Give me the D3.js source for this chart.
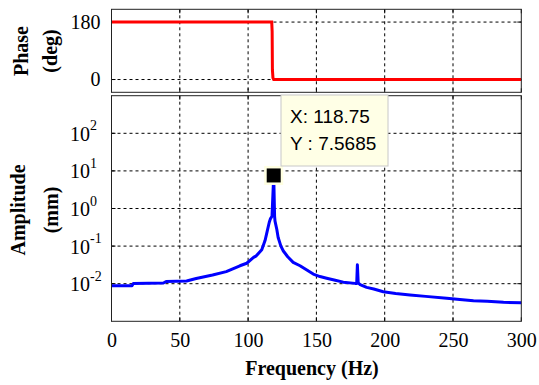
<!DOCTYPE html>
<html>
<head>
<meta charset="utf-8">
<script src="https://cdn.jsdelivr.net/npm/d3@7"></script>
<style>
  body { margin: 0; background: #fff; }
  svg text { font-family: "Liberation Serif", "Times New Roman", serif; }
  svg text.tip { font-family: "Liberation Sans", Arial, sans-serif; }
</style>
</head>
<body>
<div id="chart"></div>
<script>
// phase response (deg)
const phaseFreq = [0, 117.3, 117.6, 117.8, 118.2, 118.75, 300];
const phaseDeg  = [180, 180, 150, 30, 5, 0, 0];

// amplitude spectrum (mm)
const ampFreq = [0, 15, 16, 38, 40, 55, 62, 74, 84, 94, 99, 104, 106, 110, 112.4, 114, 115.5, 116.3,
  117.5, 118.75, 119.4, 119.7, 121, 122, 124, 125.8, 129, 133, 138, 143, 147.7, 152.6, 157.5, 163,
  169.7, 178.3, 179.5, 180, 180.6, 182, 186.8, 192, 199, 208, 218.5, 230, 245.4, 255, 265, 275, 287, 300];
const ampVal = [0.0088, 0.0088, 0.0102, 0.0104, 0.0114, 0.0118, 0.0138, 0.017, 0.021, 0.030, 0.035, 0.050, 0.055, 0.08, 0.14, 0.25, 0.43, 0.53,
  0.62, 7.5685, 0.62, 0.46, 0.28, 0.17, 0.10, 0.074, 0.052, 0.037, 0.030, 0.023, 0.018, 0.0155, 0.014, 0.0125,
  0.011, 0.0102, 0.0102, 0.032, 0.0105, 0.0095, 0.0080, 0.0072, 0.0061, 0.0055, 0.0050, 0.0046, 0.0041, 0.0038, 0.0035, 0.0034, 0.0032, 0.0031];

const freqTicks = [0, 50, 100, 150, 200, 250, 300];
const phaseTicks = [0, 180];
const ampTicks = [1e-2, 1e-1, 1e0, 1e1, 1e2];
const tipX = 118.75, tipY = 7.5685;

const W = 539, H = 385;
const left = 111.5, right = 521.3;

const svg = d3.select("#chart").append("svg")
  .attr("width", W).attr("height", H);

const x = d3.scaleLinear().domain([0, 300]).range([left, right]);
const yP = d3.scaleLinear().domain([-40, 220]).range([92.3, 9.3]);
const yA = d3.scaleLog().domain([1e-3, 1e3]).range([321.3, 95.7]);

function panel(y, yTicks) {
  const [y1, y0] = y.range();
  const g = svg.append("g");
  // grid
  g.selectAll(".gx").data(freqTicks.slice(1, -1)).join("line")
    .attr("x1", d => x(d)).attr("x2", d => x(d))
    .attr("y1", y0).attr("y2", y1)
    .attr("stroke", "#000").attr("stroke-width", 1).attr("stroke-dasharray", "3,3");
  g.selectAll(".gy").data(yTicks).join("line")
    .attr("x1", left).attr("x2", right)
    .attr("y1", d => y(d)).attr("y2", d => y(d))
    .attr("stroke", "#000").attr("stroke-width", 1).attr("stroke-dasharray", "3,3");
  // inward ticks
  freqTicks.forEach(t => {
    g.append("line").attr("x1", x(t)).attr("x2", x(t)).attr("y1", y1).attr("y2", y1 - 4).attr("stroke", "#000");
    g.append("line").attr("x1", x(t)).attr("x2", x(t)).attr("y1", y0).attr("y2", y0 + 4).attr("stroke", "#000");
  });
  yTicks.forEach(t => {
    g.append("line").attr("x1", left).attr("x2", left + 4).attr("y1", y(t)).attr("y2", y(t)).attr("stroke", "#000");
    g.append("line").attr("x1", right).attr("x2", right - 4).attr("y1", y(t)).attr("y2", y(t)).attr("stroke", "#000");
  });
  return g;
}

// phase panel
panel(yP, phaseTicks);
svg.append("path")
  .datum(phaseFreq.map((f, i) => [f, phaseDeg[i]]))
  .attr("fill", "none").attr("stroke", "#ff0000").attr("stroke-width", 3)
  .attr("d", d3.line().x(d => x(d[0])).y(d => yP(d[1])));
svg.append("rect").attr("x", left).attr("y", 9.3).attr("width", right - left).attr("height", 92.3 - 9.3)
  .attr("fill", "none").attr("stroke", "#222").attr("stroke-width", 1);

const axP = svg.append("g").attr("transform", `translate(${left},0)`)
  .call(d3.axisLeft(yP).tickValues(phaseTicks).tickSize(0).tickPadding(11));
axP.select(".domain").remove();
axP.selectAll("text").attr("font-size", 20).attr("fill", "#000");

// amplitude panel
panel(yA, ampTicks);
svg.append("path")
  .datum(ampFreq.map((f, i) => [f, ampVal[i]]))
  .attr("fill", "none").attr("stroke", "#0000ff").attr("stroke-width", 3)
  .attr("stroke-linejoin", "round")
  .attr("d", d3.line().x(d => x(d[0])).y(d => yA(d[1])));
svg.append("rect").attr("x", left).attr("y", 95.7).attr("width", right - left).attr("height", 321.3 - 95.7)
  .attr("fill", "none").attr("stroke", "#222").attr("stroke-width", 1);

const axA = svg.append("g").attr("transform", `translate(${left},0)`)
  .call(d3.axisLeft(yA).tickValues(ampTicks).tickSize(0));
axA.select(".domain").remove();
axA.selectAll("text").each(function(d) {
  const t = d3.select(this).text(null)
    .attr("text-anchor", "start").attr("x", 70 - left).attr("dy", "0.35em")
    .attr("font-size", 20).attr("fill", "#000");
  t.append("tspan").text("10");
  t.append("tspan").attr("font-size", 14).attr("dy", "-0.75em").text(Math.round(Math.log10(d)));
});

const axX = svg.append("g").attr("transform", `translate(0,321.3)`)
  .call(d3.axisBottom(x).tickValues(freqTicks).tickSize(0).tickPadding(12));
axX.select(".domain").remove();
axX.selectAll("text").attr("font-size", 20).attr("fill", "#000");

// axis titles
svg.append("text").attr("transform", "translate(28,51) rotate(-90)")
  .attr("text-anchor", "middle").attr("font-size", 20).attr("font-weight", "bold").text("Phase");
svg.append("text").attr("transform", "translate(57,51) rotate(-90)")
  .attr("text-anchor", "middle").attr("font-size", 20).attr("font-weight", "bold").text("(deg)");
svg.append("text").attr("transform", "translate(25,210) rotate(-90)")
  .attr("text-anchor", "middle").attr("font-size", 20).attr("font-weight", "bold").text("Amplitude");
svg.append("text").attr("transform", "translate(58,210) rotate(-90)")
  .attr("text-anchor", "middle").attr("font-size", 20).attr("font-weight", "bold").text("(mm)");
svg.append("text").attr("x", 312).attr("y", 375)
  .attr("text-anchor", "middle").attr("font-size", 20).attr("font-weight", "bold").text("Frequency (Hz)");

// data tip
const mx = x(tipX), my = yA(tipY);
svg.append("rect").attr("x", mx - 9.5).attr("y", my - 9.5).attr("width", 19).attr("height", 19)
  .attr("fill", "#ffffe1");
svg.append("rect").attr("x", mx - 7).attr("y", my - 7).attr("width", 14).attr("height", 14)
  .attr("fill", "#000");
svg.append("rect").attr("x", 281).attr("y", 95).attr("width", 107).attr("height", 71)
  .attr("fill", "#ffffe6").attr("stroke", "#c8c8c8").attr("stroke-width", 1);
svg.append("text").attr("class", "tip").attr("x", 290).attr("y", 123).attr("font-size", 19)
  .text("X: " + tipX);
svg.append("text").attr("class", "tip").attr("x", 290).attr("y", 150).attr("font-size", 19)
  .text("Y : " + tipY);
</script>
</body>
</html>
